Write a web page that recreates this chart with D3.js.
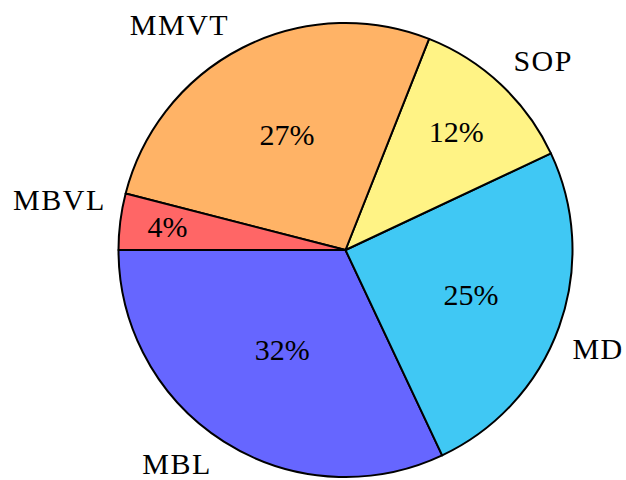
<!DOCTYPE html>
<html>
<head>
<meta charset="utf-8">
<script src="https://cdn.jsdelivr.net/npm/d3@7"></script>
<style>
  html, body { margin: 0; padding: 0; background: #ffffff; }
  svg { display: block; }
  text { font-family: "Liberation Serif", "Times New Roman", serif; fill: #000; }
</style>
</head>
<body>
<svg id="chart" width="626" height="480"></svg>
<script>
// ---- data ----
const categories = ["MBL", "MD", "SOP", "MMVT", "MBVL"];
const shares = [32, 25, 12, 27, 4];
const sliceColors = ["#6666ff", "#40c8f4", "#fff385", "#ffb366", "#ff6666"];

// ---- layout ----
const W = 626, H = 480;
const cx = 345.5, cy = 250, R = 227;
const fontSize = 30;
// small hand nudges of category labels (as in the reference)
const labelNudge = {
  MBL: [0, 3], MD: [-8, 15], SOP: [-3, -7], MMVT: [-3, -2.5], MBVL: [8, -19]
};

const svg = d3.select("#chart");
const g = svg.append("g").attr("transform", `translate(${cx},${cy})`);

const data = categories.map((c, i) => ({ name: c, value: shares[i], color: sliceColors[i] }));

// Pie starts at 9 o'clock and runs counter-clockwise.
const pie = d3.pie().value(d => d.value).sort(null)
  .startAngle(-Math.PI / 2)
  .endAngle(-Math.PI / 2 - 2 * Math.PI);
const arcs = pie(data);

const arc = d3.arc().innerRadius(0).outerRadius(R);

g.selectAll("path.slice")
  .data(arcs)
  .enter().append("path")
  .attr("class", "slice")
  .attr("d", arc)
  .attr("fill", d => d.data.color)
  .attr("stroke", "#000")
  .attr("stroke-width", 2)
  .attr("stroke-linejoin", "round");

function midXY(d, dist) {
  const a = (d.startAngle + d.endAngle) / 2;
  return [dist * Math.sin(a), -dist * Math.cos(a)];
}

// percentage labels: smaller slices sit further out
const pctScale = d3.scaleLinear().domain([4, 32]).range([0.79, 0.52]);
g.selectAll("text.pct")
  .data(arcs)
  .enter().append("text")
  .attr("class", "pct")
  .attr("x", d => midXY(d, pctScale(d.data.value) * R)[0])
  .attr("y", d => midXY(d, pctScale(d.data.value) * R)[1])
  .attr("dy", "0.33em")
  .attr("text-anchor", "middle")
  .attr("font-size", fontSize)
  .text(d => d3.format(".0f")(d.data.value) + "%");

// category labels
g.selectAll("text.cat")
  .data(arcs)
  .enter().append("text")
  .attr("class", "cat")
  .each(function (d) {
    const [x, y] = midXY(d, 1.1 * R);
    const n = labelNudge[d.data.name] || [0, 0];
    d3.select(this)
      .attr("x", x + n[0])
      .attr("y", y + n[1])
      .attr("text-anchor", x < 0 ? "end" : "start");
  })
  .attr("dy", "0.33em")
  .attr("font-size", fontSize)
  .attr("letter-spacing", 1.5)
  .text(d => d.data.name);
</script>
</body>
</html>
